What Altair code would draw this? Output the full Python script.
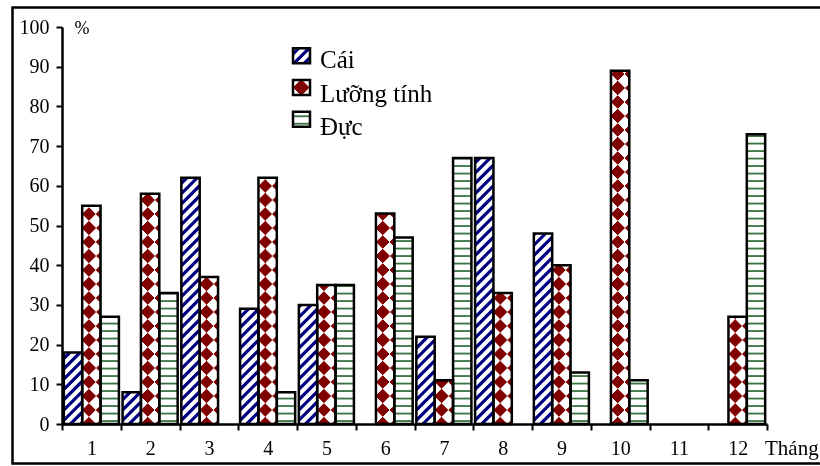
import math
import altair as alt

# Monthly sex ratio (%) of the sampled fish: female, hermaphrodite, male
months = list(range(1, 13))
series = ["Cái", "Lưỡng tính", "Đực"]
cai = [18, 8, 62, 29, 30, 0, 22, 67, 48, 0, 0, 0]
luong_tinh = [55, 58, 37, 62, 35, 53, 11, 33, 40, 89, 0, 27]
duc = [27, 33, 0, 8, 35, 47, 67, 0, 13, 11, 0, 73]

PLOT_W, PLOT_H = 705, 397
Y_MAX = 100
OUTER = 0.1
BAR_W = PLOT_W / len(months) / (len(series) + 2 * OUTER)

NAVY, MAROON, GREEN = "#000080", "#800000", "#3a7443"
WHITE, BLACK = "#ffffff", "#000000"
SERIF = "Liberation Serif"


def stops(length, period, phase, pattern):
    """Repeat one period of colour stops along a gradient of given pixel length."""
    out = []
    k = math.floor((-period - phase) / period)
    while True:
        base = phase + k * period
        if base > length + period:
            break
        for f, color in pattern:
            p = base + f * period
            if -period <= p <= length + period:
                off = min(max(p / length, 0.0), 1.0)
                out.append({"offset": round(off, 5), "color": color})
        k += 1
    return out


def grad_up(w, h, period, pattern, phase):
    # stripes running "/" : gradient position follows x + y in pixels
    c = (w + h) / (w * w + h * h)
    return {"gradient": "linear", "x1": 0, "y1": 0, "x2": c * w, "y2": c * h,
            "stops": stops(w + h, period, phase, pattern)}


def grad_down(w, h, period, pattern, phase):
    # stripes running "\" : gradient position follows x - y in pixels
    c = (w + h) / (w * w + h * h)
    return {"gradient": "linear", "x1": 0, "y1": 1, "x2": c * w, "y2": 1 - c * h,
            "stops": stops(w + h, period, phase, pattern)}


def grad_vert(w, h, period, pattern, phase):
    # horizontal wavy lines
    return {"gradient": "linear", "x1": 0, "y1": 0, "x2": 0, "y2": 1,
            "stops": stops(h, period, phase, pattern)}


STRIPE = [(0.0, WHITE), (0.36, WHITE), (0.48, NAVY), (0.80, NAVY), (0.92, WHITE), (1.0, WHITE)]
CHECK = [(0.0, BLACK), (0.47, BLACK), (0.53, WHITE), (0.97, WHITE), (1.0, BLACK)]
WAVE = [(0.0, WHITE), (0.42, WHITE), (0.55, GREEN), (0.66, GREEN), (0.80, WHITE), (1.0, WHITE)]
STRIPE_P, CHECK_P, WAVE_P = 10.3, 28.0, 7.5


def pattern_for(name, w, h, legend=False):
    if name == "Cái":
        phase = (w + h) / 2 - 0.64 * STRIPE_P if legend else h
        return grad_up(w, h, STRIPE_P, STRIPE, phase), None
    if name == "Đực":
        return grad_vert(w, h, WAVE_P, WAVE, h), None
    period = 2 * 16 if legend else CHECK_P
    pa = (w + h) / 2 - period / 4 if legend else h
    pb = (w + h) / 2 - period / 4 if legend else 0
    return grad_up(w, h, period, CHECK, pa), grad_down(w, h, period, CHECK, pb)


rows = []
for m, a, b, c in zip(months, cai, luong_tinh, duc):
    for name, v in zip(series, (a, b, c)):
        if v <= 0:
            continue
        h = v / Y_MAX * PLOT_H
        fa, fb = pattern_for(name, BAR_W, h)
        rec = {"month": m, "series": name, "value": v, "fillA": fa}
        if fb is not None:
            rec["fillB"] = fb
        rows.append(rec)

bars = alt.Data(values=rows)
one = alt.Data(values=[{"k": 0}])

x_enc = alt.X(
    "month:O",
    scale=alt.Scale(domain=months, paddingInner=0, paddingOuter=0),
    axis=alt.Axis(title=None, labelAngle=0, tickBand="extent", domainColor=BLACK,
                  domainWidth=2.5, tickColor=BLACK, tickWidth=2, tickSize=6,
                  labelFont=SERIF, labelFontSize=20, labelColor=BLACK,
                  labelPadding=8),
)
xo_enc = alt.XOffset("series:N",
                     scale=alt.Scale(domain=series, paddingInner=0, paddingOuter=OUTER))
y_enc = alt.Y(
    "value:Q", stack=None,
    scale=alt.Scale(domain=[0, Y_MAX], nice=False),
    axis=alt.Axis(title=None, values=list(range(0, 101, 10)), grid=False,
                  domainColor=BLACK, domainWidth=2.5, tickColor=BLACK, tickWidth=2,
                  tickSize=6, labelFont=SERIF, labelFontSize=20, labelColor=BLACK,
                  labelPadding=7),
)

base = alt.Chart(bars).encode(x=x_enc, xOffset=xo_enc, y=y_enc)
is_lt = alt.datum.series == "Lưỡng tính"

layers = []

# outer frame
layers.append(
    alt.Chart(one).mark_rect(fill=WHITE, fillOpacity=0, stroke=BLACK, strokeWidth=2.5)
    .encode(x=alt.value(-49.5), x2=alt.value(775), y=alt.value(-19.5), y2=alt.value(436.5))
)

# patterned bars
layers.append(base.mark_bar(strokeWidth=0).encode(fill=alt.Fill("fillA:N", scale=None)))
layers.append(base.transform_filter(is_lt).mark_bar(strokeWidth=0, blend="difference")
              .encode(fill=alt.Fill("fillB:N", scale=None)))
layers.append(base.transform_filter(is_lt).mark_bar(strokeWidth=0, blend="screen", fill=MAROON))
layers.append(base.mark_bar(fill=WHITE, fillOpacity=0, stroke=BLACK, strokeWidth=2.5))

# legend
BOX_X, BOX_W, BOX_H = 231, 17, 15
for i, name in enumerate(series):
    y0 = 21.3 + i * 31.7
    fa, fb = pattern_for(name, BOX_W, BOX_H, legend=True)
    pos = dict(x=alt.value(BOX_X), x2=alt.value(BOX_X + BOX_W),
               y=alt.value(y0), y2=alt.value(y0 + BOX_H))
    layers.append(alt.Chart(one).mark_rect(fill=fa).encode(**pos))
    if fb is not None:
        layers.append(alt.Chart(one).mark_rect(fill=fb, blend="difference").encode(**pos))
        layers.append(alt.Chart(one).mark_rect(fill=MAROON, blend="screen").encode(**pos))
    layers.append(alt.Chart(one).mark_rect(fill=WHITE, fillOpacity=0, stroke=BLACK,
                                           strokeWidth=2.5).encode(**pos))
    layers.append(
        alt.Chart(one).mark_text(text=name, font=SERIF, fontSize=25, color=BLACK,
                                 align="left", baseline="alphabetic")
        .encode(x=alt.value(258), y=alt.value(41 + i * 33.5))
    )

# axis captions
layers.append(
    alt.Chart(one).mark_text(text="%", font=SERIF, fontSize=18, color=BLACK,
                             align="center", baseline="middle")
    .encode(x=alt.value(20), y=alt.value(2))
)
layers.append(
    alt.Chart(one).mark_text(text="Tháng", font=SERIF, fontSize=21, color=BLACK,
                             align="left", baseline="alphabetic")
    .encode(x=alt.value(703), y=alt.value(428))
)

chart = (
    alt.layer(*layers)
    .properties(width=PLOT_W, height=PLOT_H,
                autosize=alt.AutoSizeParams(type="none"),
                padding={"left": 62, "top": 27, "right": 53, "bottom": 42},
                background=WHITE)
    .configure_view(stroke=None)
)

chart.save("out.html", embed_options={"renderer": "svg", "actions": False})
